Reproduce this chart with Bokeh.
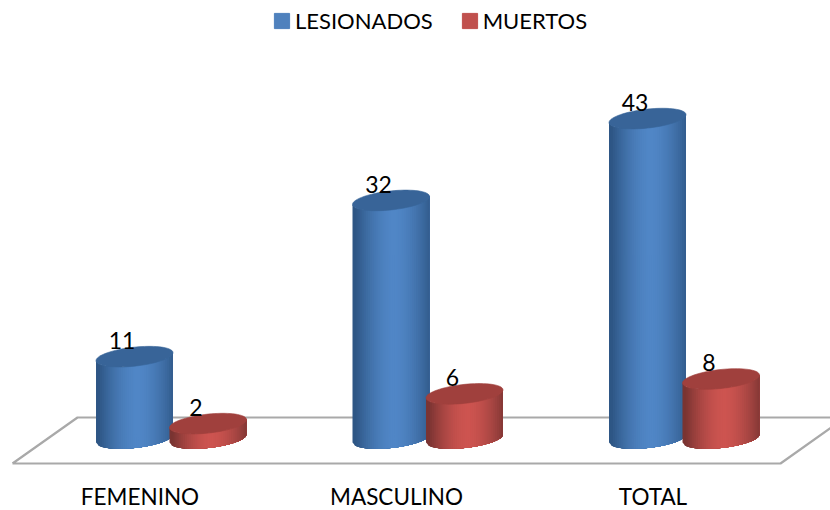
import math
from bokeh.embed import file_html
from bokeh.resources import INLINE
from bokeh.plotting import figure
from bokeh.models import Range1d, Legend, LegendItem, ColumnDataSource

categories = ["FEMENINO", "MASCULINO", "TOTAL"]
lesionados = [11, 32, 43]
muertos = [2, 6, 8]
series_names = ["LESIONADOS", "MUERTOS"]

W, H = 830, 510
PX_X = 256.5           # pixels per category
PX_Y = 7.44            # pixels per unit
X_ORIGIN = 171.0       # pixel of category 0 in canvas
Y_ORIGIN = 438.0       # pixel of value 0 in canvas
FONT = "Lato"

x_range = Range1d(-X_ORIGIN / PX_X, (W - X_ORIGIN) / PX_X)
y_range = Range1d((Y_ORIGIN - H) / PX_Y, Y_ORIGIN / PX_Y)

p = figure(width=W, height=H, x_range=x_range, y_range=y_range,
           output_backend="svg", toolbar_location=None,
           min_border=0, min_border_left=0, min_border_right=0,
           min_border_top=0, min_border_bottom=0)
p.outline_line_color = None
p.grid.visible = False
p.xaxis.visible = False
p.yaxis.visible = False
p.background_fill_color = "white"

dx = lambda px: px / PX_X
dy = lambda px: px / PX_Y

# floor plane
plane_x = [dx(-159), dx(609), dx(674), dx(-94), dx(-159)]
plane_y = [dy(-25), dy(-25), dy(21), dy(21), dy(-25)]
p.line(plane_x, plane_y, line_color="#a9a9a9", line_width=2.2)


def mix(c1, c2, f):
    return "#%02x%02x%02x" % tuple(round(a + (b - a) * f) for a, b in zip(c1, c2))


def cylinder(cx, v, edge, mid, top):
    a = dx(38.5)
    b = dy(9.5)
    tilt = dy(4)
    n = 40
    low = lambda t: -b * math.sqrt(max(0, 1 - t * t)) + tilt * t
    for k in range(n):
        t0 = -1 + 2 * k / n
        ts = [t0 + (2 - (t0 + 1)) * j / 24 for j in range(25)]
        xs = [cx + a * t for t in ts] + [cx + a * t for t in reversed(ts)]
        ys = [low(t) for t in ts] + [v + low(t) for t in reversed(ts)]
        tm = t0 + 1 / n
        f = max(0.0, 1 - abs(tm - 0.08) ** 1.7)
        c = mix(edge, mid, f)
        p.patch(xs, ys, fill_color=c, line_color=None)
    ex, ey = [], []
    for k in range(73):
        ang = 2 * math.pi * k / 72
        ex.append(cx + a * math.cos(ang))
        ey.append(v + b * math.sin(ang) + tilt * math.cos(ang))
    p.patch(ex, ey, fill_color=top, line_color=top, line_width=0.6)


BLUE = dict(edge=(46, 86, 133), mid=(80, 134, 198), top=(56, 100, 152))
RED = dict(edge=(122, 52, 50), mid=(205, 84, 80), top=(160, 64, 61))

for i in range(len(categories)):
    cylinder(i - dx(37), lesionados[i], **BLUE)
for i in range(len(categories)):
    cylinder(i + dx(36.5), muertos[i], **RED)

# value labels
lab_x = [i - dx(49.5) for i in range(3)] + [i + dx(24.5) for i in range(3)]
lab_y = [v + dy(16) for v in lesionados] + [v + dy(16) for v in muertos]
lab_t = [str(v) for v in lesionados] + [str(v) for v in muertos]
p.text(lab_x, lab_y, text=lab_t, text_align="center", text_baseline="middle",
       text_font={"value": FONT}, text_font_size="23px", text_color="#000000")

# category labels
p.text([i - dx(31.5) for i in range(3)], [dy(-57.5)] * 3, text=categories,
       text_align="center", text_baseline="middle",
       text_font={"value": FONT}, text_font_size="22.5px", text_color="#000000")

# legend
nan = float("nan")
src = ColumnDataSource(dict(l=[nan], r=[nan], t=[nan], b=[nan]))
r1 = p.quad(left="l", right="r", top="t", bottom="b", source=src, fill_color="#4f81bd", line_color="#4f81bd")
r2 = p.quad(left="l", right="r", top="t", bottom="b", source=src, fill_color="#c0504d", line_color="#c0504d")
leg = Legend(items=[LegendItem(label=series_names[0], renderers=[r1]),
                    LegendItem(label=series_names[1], renderers=[r2])],
             orientation="horizontal", location=(272, H - 34),
             glyph_width=19, glyph_height=19, label_standoff=4, spacing=27,
             padding=0, margin=0, background_fill_alpha=0, border_line_color=None,
             label_text_font=FONT, label_text_font_size="22px", label_text_color="#000000")
p.add_layout(leg, "center")

open("out.html", "w").write(file_html(p, INLINE))
